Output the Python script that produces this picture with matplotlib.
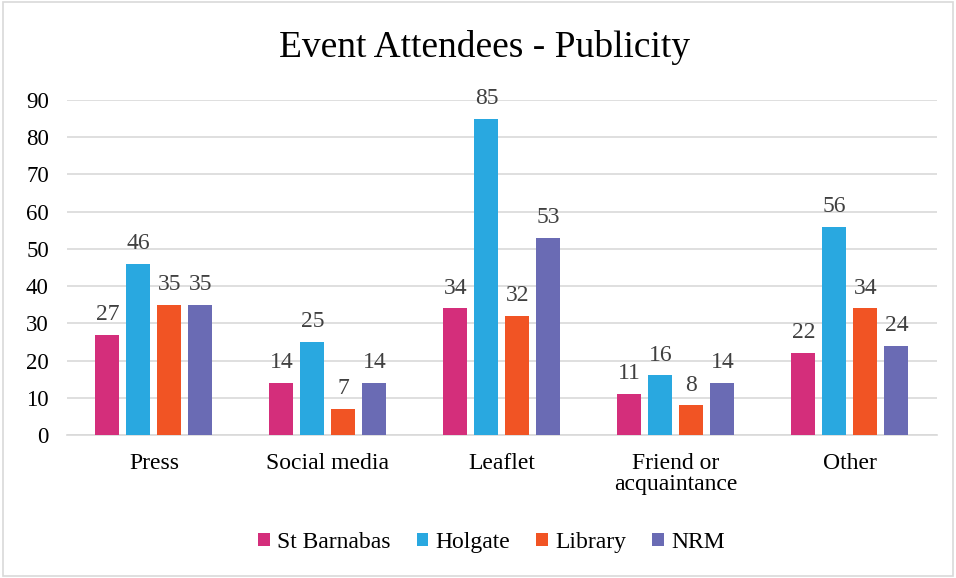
import matplotlib
matplotlib.use("Agg")
import matplotlib.pyplot as plt
import numpy as np
from matplotlib.patches import Rectangle

plt.rcParams['font.family'] = ['Liberation Serif', 'DejaVu Serif']

categories = ["Press", "Social media", "Leaflet", "Friend or\nacquaintance", "Other"]
series_names = ["St Barnabas", "Holgate", "Library", "NRM"]
st_barnabas = [27, 14, 34, 11, 22]
holgate = [46, 25, 85, 16, 56]
library = [35, 7, 32, 8, 34]
nrm = [35, 14, 53, 14, 24]
values = [st_barnabas, holgate, library, nrm]
colors = ["#D42E7B", "#29A8E0", "#F15424", "#6A6BB4"]
yticks = [0, 10, 20, 30, 40, 50, 60, 70, 80, 90]

fig = plt.figure(figsize=(9.56, 5.78), dpi=100)
ax = fig.add_axes([0.070, 0.2474, 0.910, 0.5796])

x = np.arange(len(categories))
step = 0.178
width = 0.138
for i, (name, vals, c) in enumerate(zip(series_names, values, colors)):
    pos = x + (i - 1.5) * step
    ax.bar(pos, vals, width=width, color=c, label=name, zorder=3)
    for p, v in zip(pos, vals):
        ax.text(p, v + 2.6, str(v), ha='center', va='bottom', fontsize=17, color='#404040')

ax.set_xlim(-0.5, len(categories) - 0.5)
ax.set_ylim(0, 90)
ax.set_yticks(yticks)
ax.set_yticklabels([str(t) for t in yticks], fontsize=16.5)
ax.set_xticks(x)
ax.set_xticklabels(categories, fontsize=17, linespacing=1.0)
ax.yaxis.grid(True, color='#D9D9D9', linewidth=1.2, zorder=0)
ax.set_axisbelow(True)
for s in ['top', 'right', 'left']:
    ax.spines[s].set_visible(False)
ax.spines['bottom'].set_color('#D9D9D9')
ax.spines['bottom'].set_linewidth(1.2)
ax.tick_params(axis='x', length=0, colors='#000000', pad=13)
ax.tick_params(axis='y', length=0, colors='#000000', pad=13)

fig.text(0.507, 0.918, "Event Attendees - Publicity", ha='center', va='center', fontsize=27)

handles, labels = ax.get_legend_handles_labels()
fig.legend(handles, labels, loc='center', bbox_to_anchor=(0.514, 0.062), ncol=4,
           frameon=False, fontsize=17, handlelength=0.5, handleheight=0.5,
           handletextpad=0.3, columnspacing=1.1)

fig.patches.append(Rectangle((0.003, 0.003), 0.994, 0.994, transform=fig.transFigure,
                             fill=False, edgecolor='#D9D9D9', linewidth=1.2))

fig.savefig("out.png", dpi=100)
